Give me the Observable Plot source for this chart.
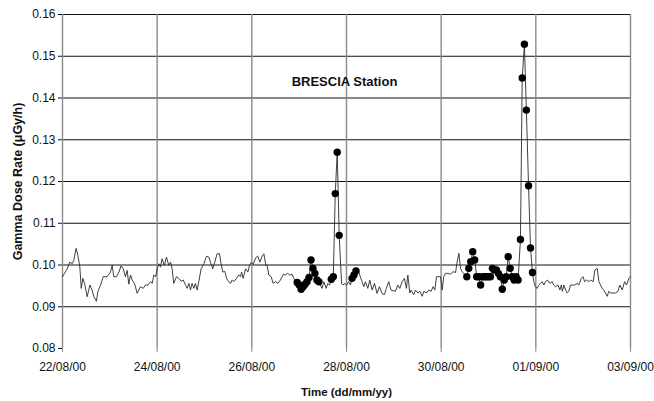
<!DOCTYPE html>
<html><head><meta charset="utf-8">
<script src="https://cdn.jsdelivr.net/npm/d3@7"></script>
<script src="https://cdn.jsdelivr.net/npm/@observablehq/plot@0.6"></script>
<style>
body{margin:0;background:#fff;}
#chart svg{display:block;}
</style></head><body><div id="chart"></div>
<script>
// ---- data ----
const startDate = "2000-08-22T00:00:00Z";   // hour 0
const endDate = "2000-09-03T00:00:00Z";
const xTickDates = ["2000-08-22","2000-08-24","2000-08-26","2000-08-28","2000-08-30","2000-09-01","2000-09-03"];
const yTicks = [0.08,0.09,0.10,0.11,0.12,0.13,0.14,0.15,0.16];
const title = "BRESCIA Station";
const yLabel = "Gamma Dose Rate (\u03BCGy/h)";
const xLabel = "Time (dd/mm/yy)";

// plain line readings: hours since start, dose rate (µGy/h)
const lineHours = [0,2.4,3.7,4.9,5.7,6.9,7.8,8.8,9.5,10.3,11.2,12.5,13.9,15.0,15.9,17.2,17.9,19.3,20.6,22.6,
  24.3,25.2,26.0,27.4,28.6,29.7,30.8,31.9,32.8,33.6,34.5,35.3,36.5,37.9,39.5,40.9,42.1,43.3,44.6,45.5,
  46.3,47.2,48.0,48.8,49.7,50.5,51.7,52.7,53.9,54.8,55.6,56.4,
  57.8,59.0,60.2,61.2,62.4,63.2,64.1,64.9,65.7,66.6,67.4,68.3,69.1,70.3,71.7,73.0,74.2,75.0,76.2,77.2,
  78.4,79.6,80.4,81.3,82.3,83.2,84.3,85.2,86.0,86.9,88.2,89.4,90.3,90.8,91.6,92.8,94.0,94.8,95.7,96.7,
  97.9,99.0,100.1,101.2,102.1,103.1,103.8,104.6,105.8,106.8,108.0,109.2,110.5,112.0,113.0,114.2,115.2,
  116.4,117.3,118.1,
  131.6,132.5,133.7,134.5,135.5,
  141.5,142.3,143.1,144.0,145.1,146.0,
  149.7,150.7,151.9,152.8,153.6,154.8,155.8,157.0,158.2,159.5,160.7,162.0,163.2,164.2,165.4,166.6,
  168.8,170.0,171.0,172.2,173.4,174.4,175.1,176.1,176.8,178.1,179.0,180.2,181.2,182.4,183.2,184.6,
  185.7,186.9,187.9,188.8,189.6,190.8,191.7,192.5,193.3,194.2,195.4,196.7,198.1,199.3,200.1,201.0,
  201.8,202.6,203.5,204.3,
  239.0,239.8,240.7,241.5,242.4,243.2,244.1,244.9,245.8,247.1,248.3,249.1,250.0,251.2,252.2,252.9,
  253.5,254.2,255.1,255.9,256.7,257.6,258.4,259.6,261.0,261.8,263.0,264.0,264.7,265.7,266.9,267.7,
  269.1,269.9,271.1,272.0,272.8,273.6,274.5,275.3,276.2,277.0,277.9,279.1,280.4,281.6,282.6,283.8,
  285.0,286.0,287.2,288.0];
const lineValues = [0.0972,0.0991,0.1007,0.1003,0.1011,0.1040,0.1023,0.0995,0.0944,0.0968,0.0956,0.0924,0.0952,0.0940,0.0924,0.0913,0.0936,0.0952,0.0972,0.0972,
  0.0983,0.0999,0.0972,0.0972,0.0983,0.0998,0.0991,0.0972,0.0987,0.0954,0.0976,0.0964,0.0956,0.0932,0.0948,0.0944,0.0952,0.0952,0.0960,0.0956,
  0.0976,0.0972,0.0991,0.1003,0.0995,0.1015,0.0999,0.1019,0.0999,0.1007,0.0991,0.0956,
  0.0972,0.0968,0.0961,0.0964,0.0952,0.0944,0.0956,0.0940,0.0956,0.0944,0.0956,0.0940,0.0960,0.0991,0.1003,0.1021,0.1019,0.1007,0.0991,0.1007,
  0.1027,0.1027,0.1003,0.0983,0.0985,0.0968,0.0960,0.0956,0.0964,0.0960,0.0968,0.0976,0.0972,0.0983,0.0968,0.0991,0.0983,0.0999,0.1006,0.1001,
  0.1017,0.1021,0.1007,0.1021,0.1027,0.0999,0.0999,0.0976,0.0972,0.0956,0.0960,0.0956,0.0964,0.0978,0.0976,0.0980,0.0976,
  0.0978,0.0968,0.0960,
  0.0944,0.0960,0.0944,0.0956,0.0952,
  0.0956,0.0952,0.0956,0.0952,0.0960,0.0952,
  0.0992,0.0976,0.0960,0.0948,0.0960,0.0944,0.0964,0.0940,0.0956,0.0932,0.0948,0.0932,0.0929,0.0944,0.0960,0.0940,
  0.0937,0.0952,0.0944,0.0960,0.0968,0.0944,0.0976,0.0933,0.0940,0.0929,0.0940,0.0933,0.0937,0.0925,0.0937,0.0933,
  0.0940,0.0937,0.0948,0.0940,0.0972,0.0972,0.0972,0.0940,0.0972,0.0980,0.0980,0.0978,0.0984,0.0982,0.1008,0.1028,
  0.0992,0.0984,0.0980,0.0976,
  0.0960,0.0948,0.0944,0.0952,0.0956,0.0960,0.0952,0.0960,0.0964,0.0956,0.0960,0.0952,0.0948,0.0952,0.0940,0.0952,
  0.0937,0.0952,0.0940,0.0933,0.0937,0.0952,0.0952,0.0952,0.0956,0.0952,0.0968,0.0972,0.0960,0.0964,0.0960,0.0964,
  0.0960,0.0988,0.0992,0.0960,0.0952,0.0944,0.0940,0.0933,0.0925,0.0937,0.0933,0.0933,0.0933,0.0937,0.0952,0.0940,
  0.0960,0.0952,0.0968,0.0972];

// readings marked with dots (rain episodes)
const dotHours = [119,120,121,122,123,124,125,126,127,128,129,130,
  136.3,137.3,138.3,139.3,140.3,
  146.8,147.8,148.8,
  205,206,207,208,209,210,211,212,213,214,215,216,217,218,219,220,221,222,223,224,225,226,227,228,229,230,231,
  232.2,233.1,234.2,235.2,236.3,237.3,238.3];
const dotValues = [0.0958,0.0952,0.0942,0.0948,0.0954,0.0960,0.0970,0.1012,0.0992,0.0980,0.0964,0.0960,
  0.0966,0.0972,0.1171,0.1270,0.1071,
  0.0968,0.0976,0.0986,
  0.0972,0.0992,0.1008,0.1032,0.1012,0.0972,0.0972,0.0952,0.0972,0.0972,0.0972,0.0972,0.0972,0.0992,0.0988,0.0988,0.0980,0.0972,0.0942,0.0964,0.0972,0.1020,0.0992,0.0972,0.0964,0.0972,0.0964,
  0.1061,0.1448,0.1529,0.1371,0.1190,0.1041,0.0982];

// ---- build ----
const t0 = new Date(startDate).getTime();
const toDate = h => new Date(t0 + h * 3600e3);
const dots = dotHours.map((h, i) => ({date: toDate(h), value: dotValues[i]}));
const lineData = lineHours.map((h, i) => ({date: toDate(h), value: lineValues[i]}))
  .concat(dots)
  .sort((a, b) => a.date - b.date);
const xTicks = xTickDates.map(d => new Date(d + "T00:00:00Z"));
const fmt = d3.utcFormat("%d/%m/%y");

const chart = Plot.plot({
  width: 654,
  height: 401,
  marginLeft: 62,
  marginRight: 24,
  marginTop: 14,
  marginBottom: 53,
  style: {fontFamily: "Arial, 'Liberation Sans', sans-serif", fontSize: "12px", color: "#111", background: "#fff"},
  x: {type: "utc", domain: [new Date(startDate), new Date(endDate)]},
  y: {domain: [0.08, 0.16]},
  marks: [
    Plot.ruleY(yTicks.filter(v => v > 0.081), {stroke: "#111", strokeWidth: 1}),
    Plot.ruleX(xTicks, {stroke: "#8a8a8a", strokeWidth: 1.4}),
    Plot.axisY({ticks: yTicks, tickFormat: d3.format(".2f"), tickSize: 4, tickPadding: 3, label: null, stroke: "#111", fontSize: 12}),
    Plot.axisX({ticks: xTicks, tickFormat: fmt, tickSize: 4, tickPadding: 10, label: null, stroke: "#8a8a8a", fontSize: 12}),
    Plot.line(lineData, {x: "date", y: "value", stroke: "#2a2a2a", strokeWidth: 0.9}),
    Plot.dot(dots, {x: "date", y: "value", r: 3.7, fill: "#000", stroke: "none"}),
    Plot.text([title], {frameAnchor: "top", dx: -2, dy: 62, fontWeight: "bold", fontSize: 13, fill: "#111"}),
    Plot.text([yLabel], {frameAnchor: "left", rotate: -90, textAnchor: "middle", lineAnchor: "middle", dx: -45, dy: 0, fontWeight: "bold", fontSize: 12.5, fill: "#111"}),
    Plot.text([xLabel], {frameAnchor: "bottom", textAnchor: "middle", lineAnchor: "bottom", dy: 47, fontWeight: "bold", fontSize: 11.5, fill: "#111"})
  ]
});
document.getElementById("chart").appendChild(chart);
</script>
</body></html>
